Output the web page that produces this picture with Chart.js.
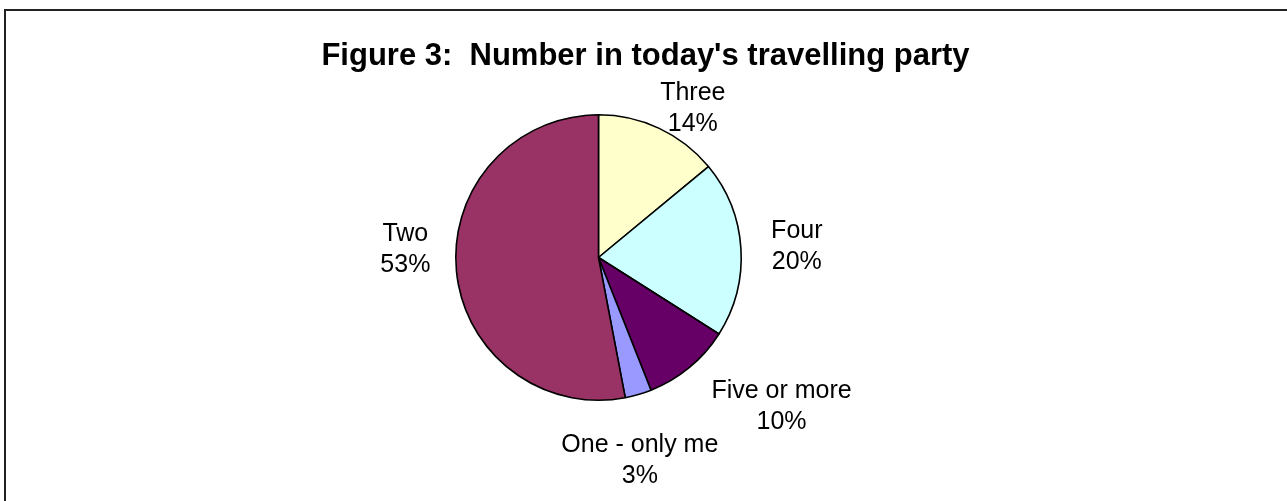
<!DOCTYPE html>
<html>
<head>
<meta charset="utf-8">
<script src="https://cdn.jsdelivr.net/npm/chart.js@4/dist/chart.umd.min.js"></script>
<style>
    html, body { margin: 0; padding: 0; background: #fff; }
    canvas { display: block; }
</style>
</head>
<body>
<canvas id="party" width="1287" height="501"></canvas>
<script>
const categories = ['Three', 'Four', 'Five or more', 'One - only me', 'Two'];
const shares = [14, 20, 10, 3, 53];
const sliceColours = ['#FFFFCC', '#CCFFFF', '#660066', '#9999FF', '#993366'];

const titleText = "Figure 3:  Number in today's travelling party";
const fontFamily = '"Liberation Sans", Arial, sans-serif';

// label distance from centre, plus small per-slice nudges so labels sit clear of each other
const labelDistance = 170;
const labelLineHeight = 31;
const labelNudge = [[8, 33], [3, 2], [30, -6], [-28, 10], [1, -27]];

const framePlugin = {
    id: 'frame',
    beforeDraw(chart) {
        const ctx = chart.ctx;
        ctx.save();
        ctx.fillStyle = '#fff';
        ctx.fillRect(0, 0, chart.width, chart.height);
        ctx.fillStyle = '#222';
        ctx.fillRect(4, 9, chart.width - 4, 2);
        ctx.fillRect(4, 9, 2, chart.height - 9);

        ctx.fillStyle = '#000';
        ctx.font = 'bold 31px ' + fontFamily;
        ctx.textAlign = 'center';
        ctx.textBaseline = 'alphabetic';
        ctx.fillText(titleText, (4 + chart.width) / 2, 65);
        ctx.restore();
    }
};

const sliceLabels = {
    id: 'sliceLabels',
    afterDatasetsDraw(chart) {
        const ctx = chart.ctx;
        const meta = chart.getDatasetMeta(0);
        ctx.save();
        ctx.fillStyle = '#000';
        ctx.font = '25px ' + fontFamily;
        ctx.textAlign = 'center';
        ctx.textBaseline = 'middle';
        meta.data.forEach((arc, i) => {
            const { x, y, startAngle, endAngle } = arc.getProps(['x', 'y', 'startAngle', 'endAngle'], true);
            const mid = (startAngle + endAngle) / 2;
            const dx = Math.cos(mid);
            const dy = Math.sin(mid);
            const lines = [categories[i], shares[i] + '%'];
            const w = Math.max(...lines.map(t => ctx.measureText(t).width));
            const h = lines.length * labelLineHeight;
            const cx = x + labelDistance * dx + dx * w / 2 + labelNudge[i][0];
            const cy = y + labelDistance * dy + dy * h / 2 + labelNudge[i][1];
            lines.forEach((t, k) => {
                ctx.fillText(t, cx, cy - h / 2 + labelLineHeight * (k + 0.5));
            });
        });
        ctx.restore();
    }
};

new Chart(document.getElementById('party').getContext('2d'), {
    type: 'pie',
    data: {
        labels: categories,
        datasets: [
            {
                data: shares,
                backgroundColor: sliceColours,
                borderColor: '#000',
                borderWidth: 1.6,
                hoverOffset: 0
            }
        ]
    },
    options: {
        responsive: false,
        animation: false,
        layout: {
            padding: { left: 455, right: 545, top: 114, bottom: 100 }
        },
        plugins: {
            legend: { display: false },
            tooltip: { enabled: false },
            title: { display: false }
        }
    },
    plugins: [framePlugin, sliceLabels]
});
</script>
</body>
</html>
